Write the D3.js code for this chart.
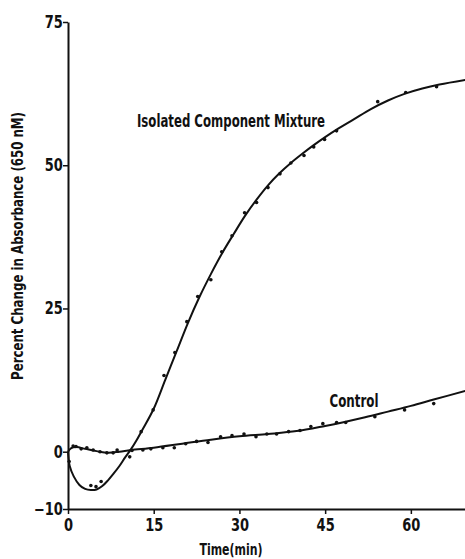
<!DOCTYPE html>
<html>
<head>
<meta charset="utf-8">
<script src="https://cdn.jsdelivr.net/npm/d3@7"></script>
<style>
body { margin: 0; background: #fff; }
text { font-family: "Liberation Sans Narrow", "DejaVu Sans Condensed", sans-serif; font-weight: bold; fill: #111; }
</style>
</head>
<body>
<div id="chart"></div>
<script>
// values
var mixTime = [0.2, 4.0, 4.9, 5.8, 10.8, 12.8, 14.9, 16.8, 18.7, 20.8, 22.7, 25.0, 26.9, 28.7, 30.9, 33.0, 35.0, 37.1, 39.0, 41.3, 43.0, 44.9, 47.0, 54.2, 59.1, 64.5];
var mixValue = [-1.7, -5.9, -6.1, -5.2, -0.9, 3.5, 7.3, 13.3, 17.3, 22.7, 27.1, 30.0, 34.9, 37.7, 41.7, 43.5, 46.1, 48.5, 50.4, 51.7, 53.2, 54.5, 56.0, 61.1, 62.7, 63.7];
var mixFitTime = [0, 0.3, 1, 2, 3, 4, 5, 6, 7, 8, 9, 10, 11, 12, 13, 15, 17, 19, 21, 23, 25, 27, 29, 31, 33, 35, 37, 39, 41, 43, 45, 47, 50, 53, 56, 59, 62, 65, 69.5];
var mixFitValue = [0, -2.5, -4.3, -5.8, -6.5, -6.7, -6.6, -6.0, -5.0, -3.8, -2.5, -1.0, 0.4, 2.0, 3.8, 7.5, 12.5, 17.5, 22.5, 27.0, 31.0, 34.7, 38.0, 41.2, 44.0, 46.5, 48.6, 50.4, 52.0, 53.5, 54.9, 56.2, 58.0, 59.8, 61.3, 62.5, 63.4, 64.1, 64.9];

var ctrlTime = [0.9, 1.4, 2.3, 3.3, 4.4, 5.6, 6.8, 7.9, 8.6, 11.2, 13.1, 14.5, 16.6, 18.6, 20.6, 22.5, 24.5, 26.7, 28.7, 30.8, 32.9, 34.8, 36.5, 38.6, 40.6, 42.5, 44.6, 47.0, 48.6, 53.7, 58.9, 64.0];
var ctrlValue = [1.0, 0.9, 0.5, 0.7, 0.3, 0.0, -0.2, -0.2, 0.3, 0.2, 0.3, 0.5, 0.7, 0.7, 1.4, 1.8, 1.6, 2.6, 2.8, 3.1, 2.6, 3.1, 3.1, 3.5, 3.7, 4.4, 4.9, 5.1, 5.1, 6.1, 7.3, 8.4];
var ctrlFitTime = [0, 0.5, 1.5, 3, 5, 7, 9, 11, 15, 20, 25, 30, 35, 40, 45, 48, 52, 56, 60, 64, 69.5];
var ctrlFitValue = [0, 0.6, 0.8, 0.5, 0.1, -0.2, 0, 0.3, 0.7, 1.4, 2.1, 2.7, 3.1, 3.6, 4.5, 5.1, 6.0, 7.0, 8.0, 9.1, 10.6];

var xTicks = [0, 15, 30, 45, 60];
var yTicks = [-10, 0, 25, 50, 75];

var svgWidth = 465;
var svgHeight = 559;

var svg = d3.select("#chart").append("svg")
  .attr("width", svgWidth)
  .attr("height", svgHeight);

var x = d3.scaleLinear().domain([0, 70]).range([68, 468]);
var y = d3.scaleLinear().domain([-10, 75]).range([509, 22]);

// axes
var xAxis = svg.append("g")
  .attr("transform", "translate(0," + y(-10) + ")")
  .call(d3.axisBottom(x).tickValues(xTicks).tickSize(5).tickSizeOuter(0));
xAxis.select(".domain").attr("stroke", "#111").attr("stroke-width", 2);
xAxis.selectAll(".tick line").attr("stroke", "#111").attr("stroke-width", 1.5);
xAxis.selectAll(".tick text").attr("font-size", 17).attr("dy", "0.85em")
  .attr("transform", "scale(0.85,1)");

var yAxis = svg.append("g")
  .attr("transform", "translate(" + x(0) + ",0)")
  .call(d3.axisLeft(y).tickValues(yTicks).tickSize(5).tickSizeOuter(0));
yAxis.select(".domain").attr("stroke", "#111").attr("stroke-width", 2);
yAxis.selectAll(".tick line").attr("stroke", "#111").attr("stroke-width", 1.5);
yAxis.selectAll(".tick text").attr("font-size", 17).attr("x", -6)
  .attr("transform", "scale(0.85,1)");

// axis titles
svg.append("text")
  .attr("x", 231)
  .attr("y", 555)
  .attr("text-anchor", "middle")
  .attr("font-size", 16)
  .attr("textLength", 63)
  .attr("lengthAdjust", "spacingAndGlyphs")
  .text("Time(min)");

svg.append("text")
  .attr("transform", "translate(23,246) rotate(-90)")
  .attr("text-anchor", "middle")
  .attr("font-size", 15)
  .attr("textLength", 268)
  .attr("lengthAdjust", "spacingAndGlyphs")
  .text("Percent Change in Absorbance (650 nM)");

// fitted curves
var line = d3.line()
  .x(d => x(d[0]))
  .y(d => y(d[1]))
  .curve(d3.curveCatmullRom.alpha(0.5));

svg.append("path")
  .datum(d3.zip(mixFitTime, mixFitValue))
  .attr("d", line)
  .attr("fill", "none")
  .attr("stroke", "#111")
  .attr("stroke-width", 2);

svg.append("path")
  .datum(d3.zip(ctrlFitTime, ctrlFitValue))
  .attr("d", line)
  .attr("fill", "none")
  .attr("stroke", "#111")
  .attr("stroke-width", 2);

// data points
svg.selectAll(".mix")
  .data(d3.zip(mixTime, mixValue))
  .enter()
  .append("circle")
  .attr("class", "mix")
  .attr("cx", d => x(d[0]))
  .attr("cy", d => y(d[1]))
  .attr("r", 1.8)
  .attr("fill", "#111");

svg.selectAll(".ctrl")
  .data(d3.zip(ctrlTime, ctrlValue))
  .enter()
  .append("circle")
  .attr("class", "ctrl")
  .attr("cx", d => x(d[0]))
  .attr("cy", d => y(d[1]))
  .attr("r", 1.8)
  .attr("fill", "#111");

// series labels
svg.append("text")
  .attr("x", 231)
  .attr("y", 127)
  .attr("text-anchor", "middle")
  .attr("font-size", 18)
  .attr("textLength", 188)
  .attr("lengthAdjust", "spacingAndGlyphs")
  .text("Isolated Component Mixture");

svg.append("text")
  .attr("x", 354)
  .attr("y", 407)
  .attr("text-anchor", "middle")
  .attr("font-size", 17)
  .attr("textLength", 49)
  .attr("lengthAdjust", "spacingAndGlyphs")
  .text("Control");
</script>
</body>
</html>
